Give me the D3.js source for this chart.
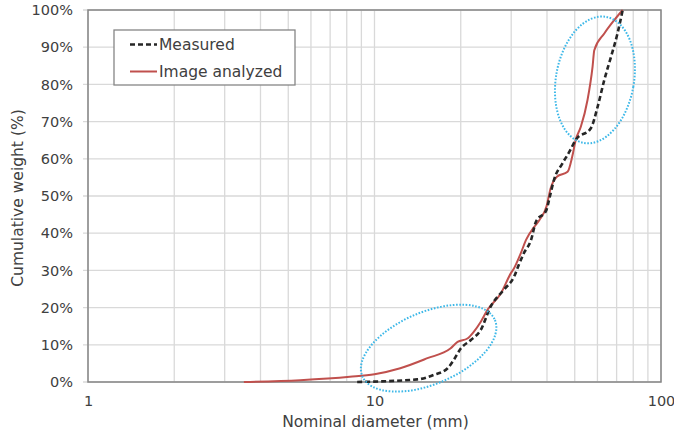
<!DOCTYPE html>
<html>
<head>
<meta charset="utf-8">
<script src="https://cdn.jsdelivr.net/npm/d3@7"></script>
<style>
body { margin: 0; background: #fff; }
svg text { font-family: "DejaVu Sans", sans-serif; fill: #404040; }
</style>
</head>
<body>
<div class="graph"></div>
<script>
// measured curve (dashed black)
var measuredDiam = [8.7, 14.1, 16.1, 18.0, 18.9, 20.0, 21.7, 23.5, 25.4, 28.2, 30.7, 31.9, 33.2, 35.2, 36.6, 39.8, 40.8, 42.3, 45.3, 47.9, 50.4, 56.9, 60.1, 63.4, 66.9, 70.5, 73.5];
var measuredPct = [0, 0.7, 1.9, 3.7, 5.9, 9.0, 11.3, 14.0, 20.2, 24.7, 28.3, 31.5, 34.6, 38.2, 43.1, 46.2, 49.4, 54.3, 58.8, 61.9, 65.1, 68.2, 74.0, 81.2, 87.4, 93.7, 100];

// image analyzed curve (red)
var imageDiam = [3.5, 5.5, 8.2, 10, 12.3, 15.3, 18.4, 19.5, 21.1, 22.2, 23.5, 24.8, 27.6, 29.9, 30.7, 32.4, 33.8, 36.1, 37.6, 39.8, 41.2, 43.3, 47.2, 49.0, 50.4, 52.5, 55.4, 57.7, 58.5, 63.4, 68.7, 73.5];
var imagePct = [0, 0.5, 1.4, 2.1, 3.7, 6.4, 9.0, 10.8, 11.7, 13.5, 16.2, 19.4, 23.8, 29.2, 30.6, 34.6, 38.2, 41.7, 43.5, 47.1, 52.1, 55.2, 56.5, 60.6, 65.1, 68.6, 75.8, 84.8, 89.2, 93.7, 97.3, 100];

var xTicks = [1, 10, 100];
var yTicks = [0, 10, 20, 30, 40, 50, 60, 70, 80, 90, 100];
var legendNames = ["Measured", "Image analyzed"];

// highlight ellipses (centre in data units)
var ellipseDiam = [58.8, 15.45];
var ellipsePct = [81.2, 9.1];

var margin = { top: 10, right: 13, bottom: 48, left: 88 },
    W = 674, H = 430,
    width = W - margin.left - margin.right,
    height = H - margin.top - margin.bottom;

var svg = d3.select(".graph").append("svg").attr("width", W).attr("height", H);
svg.append("rect").attr("width", W).attr("height", H).attr("fill", "#fff");
var g = svg.append("g").attr("transform", "translate(" + margin.left + "," + margin.top + ")");

var x = d3.scaleLog().domain([1, 100]).range([0, width]);
var y = d3.scaleLinear().domain([0, 100]).range([height, 0]);

// grid
var minor = [];
for (var dec = 1; dec < 100; dec *= 10) {
	for (var m = 1; m < 10; m++) minor.push(m * dec);
}
minor.push(100);
g.append("g").selectAll("line").data(minor).enter().append("line")
	.attr("x1", function (d) { return x(d); }).attr("x2", function (d) { return x(d); })
	.attr("y1", 0).attr("y2", height)
	.attr("stroke", "#d9d9d9").attr("stroke-width", 1.3);
g.append("g").selectAll("line").data(yTicks).enter().append("line")
	.attr("x1", -5).attr("x2", width)
	.attr("y1", function (d) { return y(d); }).attr("y2", function (d) { return y(d); })
	.attr("stroke", "#d9d9d9").attr("stroke-width", 1.3);

// frame
g.append("rect").attr("width", width).attr("height", height)
	.attr("fill", "none").attr("stroke", "#868686").attr("stroke-width", 1.5);

// axes (labels only)
var yAxis = g.append("g").call(d3.axisLeft(y).tickValues(yTicks).tickSize(0).tickPadding(15)
	.tickFormat(function (d) { return d + "%"; }));
var xAxis = g.append("g").attr("transform", "translate(0," + height + ")")
	.call(d3.axisBottom(x).tickValues(xTicks).tickSize(0).tickPadding(14).tickFormat(d3.format("d")));
[yAxis, xAxis].forEach(function (a) {
	a.select(".domain").remove();
	a.selectAll("text").attr("font-size", 14.5).attr("font-family", null).attr("fill", "#404040");
});

// curves
var line = d3.line().curve(d3.curveMonotoneX)
	.x(function (d) { return x(d[0]); }).y(function (d) { return y(d[1]); });
var imageData = d3.zip(imageDiam, imagePct);
var measuredData = d3.zip(measuredDiam, measuredPct);

g.append("path").datum(imageData).attr("d", line)
	.attr("fill", "none").attr("stroke", "#c0504d").attr("stroke-width", 2);
g.append("path").datum(measuredData).attr("d", line)
	.attr("fill", "none").attr("stroke", "#262626").attr("stroke-width", 2.6)
	.attr("stroke-dasharray", "5,3");

// dotted ellipses
var ellR = [[39, 64, 10], [72, 36, -23]];
g.selectAll(".ell").data(d3.range(ellipseDiam.length)).enter().append("ellipse")
	.attr("transform", function (i) {
		return "translate(" + x(ellipseDiam[i]) + "," + y(ellipsePct[i]) + ") rotate(" + ellR[i][2] + ")";
	})
	.attr("rx", function (i) { return ellR[i][0]; })
	.attr("ry", function (i) { return ellR[i][1]; })
	.attr("fill", "none").attr("stroke", "#3db8e8").attr("stroke-width", 2)
	.attr("stroke-dasharray", "1.6,1.6");

// legend
var lg = svg.append("g").attr("transform", "translate(114,30)");
lg.append("rect").attr("width", 181).attr("height", 55)
	.attr("fill", "#fff").attr("stroke", "#868686").attr("stroke-width", 1.3);
var items = lg.selectAll(".item").data(legendNames).enter().append("g")
	.attr("transform", function (d, i) { return "translate(0," + (14.5 + i * 27) + ")"; });
items.append("line").attr("x1", 16).attr("x2", 43)
	.attr("stroke", function (d, i) { return i == 0 ? "#262626" : "#c0504d"; })
	.attr("stroke-width", function (d, i) { return i == 0 ? 2.6 : 2; })
	.attr("stroke-dasharray", function (d, i) { return i == 0 ? "5,3" : null; });
items.append("text").attr("x", 45).attr("dy", "0.35em").attr("font-size", 15.5).text(function (d) { return d; });

// titles
svg.append("text").attr("x", margin.left + x(10) + 1).attr("y", 427)
	.attr("text-anchor", "middle").attr("font-size", 15.5).text("Nominal diameter (mm)");
svg.append("text").attr("transform", "translate(23," + (margin.top + height / 2 + 2) + ") rotate(-90)")
	.attr("text-anchor", "middle").attr("font-size", 15.5).text("Cumulative weight (%)");
</script>
</body>
</html>
